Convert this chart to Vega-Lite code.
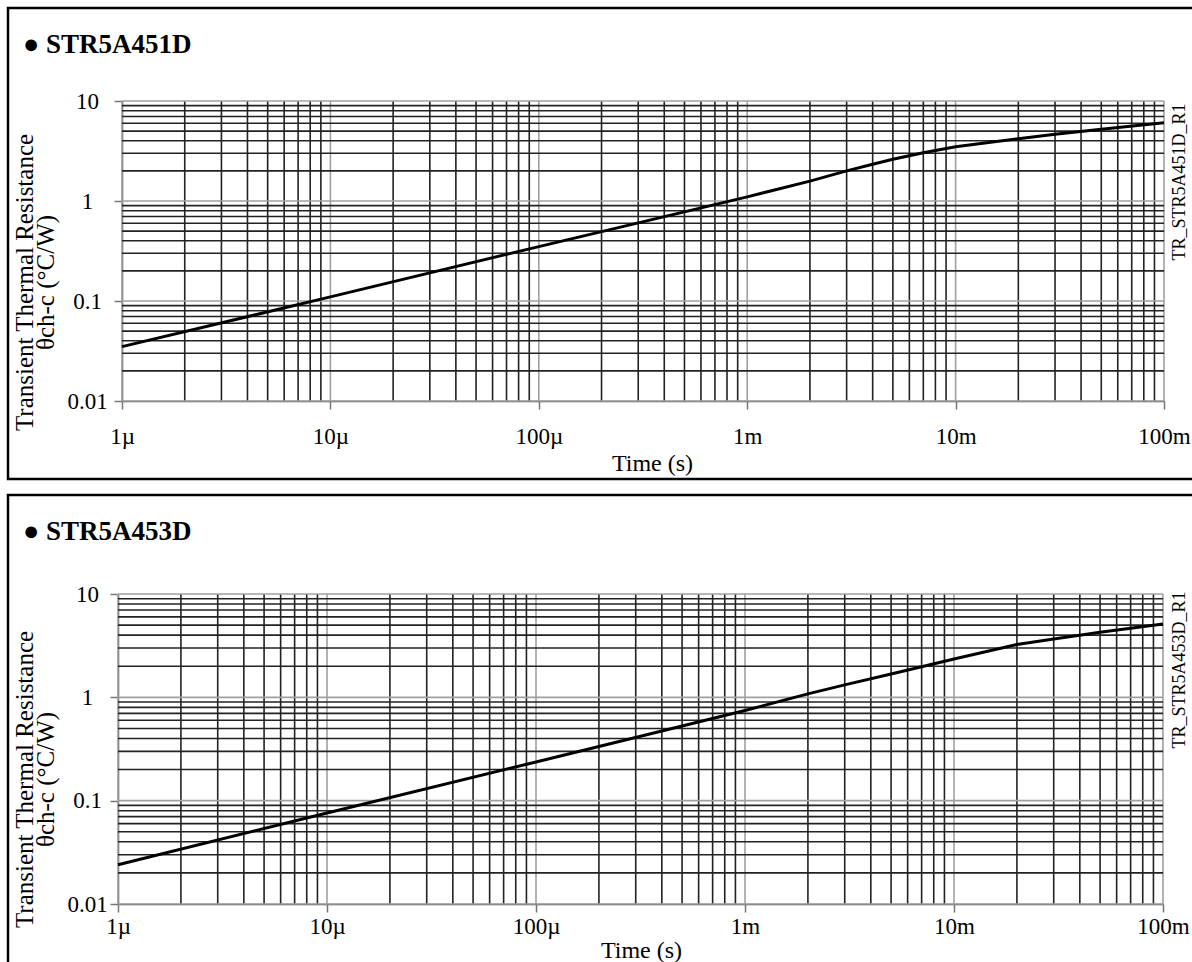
{
  "$schema": "https://vega.github.io/schema/vega-lite/v6.json",
  "padding": {"left": 6, "top": 6, "right": 0, "bottom": 0},
  "background": "white",
  "bounds": "flush",
  "spacing": 16,
  "config": {
    "font": "Liberation Serif",
    "view": {"stroke": "#000000", "strokeWidth": 2.5},
    "axis": {"zindex": 1}
  },
  "datasets": {
    "gx": [
      {"t": 2e-6, "kind": "minor"}, {"t": 3e-6, "kind": "minor"}, {"t": 4e-6, "kind": "minor"}, {"t": 5e-6, "kind": "minor"}, {"t": 6e-6, "kind": "minor"}, {"t": 7e-6, "kind": "minor"}, {"t": 8e-6, "kind": "minor"}, {"t": 9e-6, "kind": "minor"},
      {"t": 2e-5, "kind": "minor"}, {"t": 3e-5, "kind": "minor"}, {"t": 4e-5, "kind": "minor"}, {"t": 5e-5, "kind": "minor"}, {"t": 6e-5, "kind": "minor"}, {"t": 7e-5, "kind": "minor"}, {"t": 8e-5, "kind": "minor"}, {"t": 9e-5, "kind": "minor"},
      {"t": 2e-4, "kind": "minor"}, {"t": 3e-4, "kind": "minor"}, {"t": 4e-4, "kind": "minor"}, {"t": 5e-4, "kind": "minor"}, {"t": 6e-4, "kind": "minor"}, {"t": 7e-4, "kind": "minor"}, {"t": 8e-4, "kind": "minor"}, {"t": 9e-4, "kind": "minor"},
      {"t": 0.002, "kind": "minor"}, {"t": 0.003, "kind": "minor"}, {"t": 0.004, "kind": "minor"}, {"t": 0.005, "kind": "minor"}, {"t": 0.006, "kind": "minor"}, {"t": 0.007, "kind": "minor"}, {"t": 0.008, "kind": "minor"}, {"t": 0.009, "kind": "minor"},
      {"t": 0.02, "kind": "minor"}, {"t": 0.03, "kind": "minor"}, {"t": 0.04, "kind": "minor"}, {"t": 0.05, "kind": "minor"}, {"t": 0.06, "kind": "minor"}, {"t": 0.07, "kind": "minor"}, {"t": 0.08, "kind": "minor"}, {"t": 0.09, "kind": "minor"},
      {"t": 1e-6, "kind": "major"}, {"t": 1e-5, "kind": "major"}, {"t": 1e-4, "kind": "major"}, {"t": 0.001, "kind": "major"}, {"t": 0.01, "kind": "major"}, {"t": 0.1, "kind": "major"}
    ],
    "gy": [
      {"v": 0.02, "kind": "minor"}, {"v": 0.03, "kind": "minor"}, {"v": 0.04, "kind": "minor"}, {"v": 0.05, "kind": "minor"}, {"v": 0.06, "kind": "minor"}, {"v": 0.07, "kind": "minor"}, {"v": 0.08, "kind": "minor"}, {"v": 0.09, "kind": "minor"},
      {"v": 0.2, "kind": "minor"}, {"v": 0.3, "kind": "minor"}, {"v": 0.4, "kind": "minor"}, {"v": 0.5, "kind": "minor"}, {"v": 0.6, "kind": "minor"}, {"v": 0.7, "kind": "minor"}, {"v": 0.8, "kind": "minor"}, {"v": 0.9, "kind": "minor"},
      {"v": 2, "kind": "minor"}, {"v": 3, "kind": "minor"}, {"v": 4, "kind": "minor"}, {"v": 5, "kind": "minor"}, {"v": 6, "kind": "minor"}, {"v": 7, "kind": "minor"}, {"v": 8, "kind": "minor"}, {"v": 9, "kind": "minor"},
      {"v": 0.01, "kind": "major"}, {"v": 0.1, "kind": "major"}, {"v": 1, "kind": "major"}, {"v": 10, "kind": "major"}
    ],
    "c1": [
      {"t": 1e-6, "r": 0.035}, {"t": 1e-5, "r": 0.11}, {"t": 1e-4, "r": 0.35}, {"t": 0.001, "r": 1.1},
      {"t": 0.002, "r": 1.58}, {"t": 0.003, "r": 2.0}, {"t": 0.004, "r": 2.33}, {"t": 0.005, "r": 2.61},
      {"t": 0.007, "r": 3.04}, {"t": 0.01, "r": 3.49}, {"t": 0.02, "r": 4.2}, {"t": 0.03, "r": 4.64},
      {"t": 0.05, "r": 5.21}, {"t": 0.1, "r": 6.07}
    ],
    "c2": [
      {"t": 1e-6, "r": 0.024}, {"t": 1e-5, "r": 0.076}, {"t": 1e-4, "r": 0.237}, {"t": 0.001, "r": 0.745},
      {"t": 0.002, "r": 1.08}, {"t": 0.003, "r": 1.32}, {"t": 0.005, "r": 1.68}, {"t": 0.007, "r": 1.98},
      {"t": 0.01, "r": 2.35}, {"t": 0.02, "r": 3.24}, {"t": 0.03, "r": 3.67}, {"t": 0.05, "r": 4.26},
      {"t": 0.1, "r": 5.13}
    ]
  },
  "vconcat": [
    {
      "width": 1192,
      "height": 471,
      "title": {"text": "● STR5A451D", "anchor": "start", "frame": "group", "offset": -46, "dx": 15, "dy": 26, "baseline": "alphabetic", "font": "Liberation Serif", "fontSize": 27, "fontWeight": "bold", "color": "#000000"},
      "resolve": {"axis": {"x": "independent", "y": "independent"}},
      "layer": [
        {
          "data": {"name": "gx"},
          "mark": {"type": "rule", "strokeWidth": 1.6},
          "encoding": {
            "x": {"field": "t", "type": "quantitative", "scale": {"type": "log", "domain": [1e-6, 0.1], "range": [114, 1156]},
                  "axis": {"orient": "bottom", "offset": -78, "values": [1e-6, 1e-5, 1e-4, 0.001, 0.01, 0.1], "format": "~s", "grid": false,
                           "labelFont": "Liberation Serif", "labelFontSize": 23, "labelColor": "#000000", "labelBaseline": "alphabetic", "labelPadding": 34, "labelFlush": false, "labelOverlap": false,
                           "tickSize": 8, "tickColor": "#777777", "tickWidth": 1.5, "domainColor": "#555555", "domainWidth": 1.5,
                           "title": "Time (s)", "titleFont": "Liberation Serif", "titleFontSize": 24, "titleFontWeight": "normal", "titleColor": "#000000",
                           "titleBaseline": "alphabetic", "titleAlign": "center", "titleX": 644, "titleY": 69}},
            "y": {"datum": 0.01, "type": "quantitative", "scale": {"type": "log", "domain": [0.01, 10], "range": [393, 93]},
                  "axis": {"orient": "right", "offset": -36, "labels": false, "ticks": false, "domain": false, "grid": false,
                           "title": "TR_STR5A451D_R1", "titleAngle": 270, "titleAlign": "right", "titleBaseline": "middle", "titleX": 15, "titleY": 95,
                           "titleFont": "Liberation Serif", "titleFontSize": 18, "titleFontWeight": "normal", "titleColor": "#000000"}},
            "y2": {"datum": 10},
            "color": {"field": "kind", "type": "nominal", "scale": {"domain": ["major", "minor"], "range": ["#a0a0a0", "#222222"]}, "legend": null}
          }
        },
        {
          "data": {"name": "gy"},
          "mark": {"type": "rule", "strokeWidth": 1.6},
          "encoding": {
            "y": {"field": "v", "type": "quantitative", "scale": {"type": "log", "domain": [0.01, 10], "range": [393, 93]},
                  "axis": {"orient": "left", "offset": -114, "values": [0.01, 0.1, 1, 10], "format": "~g", "grid": false,
                           "labelFont": "Liberation Serif", "labelFontSize": 23, "labelColor": "#000000", "labelAlign": "center", "labelBaseline": "middle", "labelPadding": 27, "labelFlush": false, "labelOverlap": false,
                           "tickSize": 8, "tickColor": "#777777", "tickWidth": 1.5, "domainColor": "#555555", "domainWidth": 1.5,
                           "title": ["Transient Thermal Resistance", "θch-c (°C/W)"], "titleFont": "Liberation Serif", "titleFontSize": 25, "titleFontWeight": "normal", "titleColor": "#000000",
                           "titleAngle": 270, "titleAlign": "center", "titleBaseline": "middle", "titleLineHeight": 21, "titleX": -98, "titleY": 274}},
            "x": {"datum": 1e-6, "type": "quantitative", "scale": {"type": "log", "domain": [1e-6, 0.1], "range": [114, 1156]}, "axis": null},
            "x2": {"datum": 0.1},
            "color": {"field": "kind", "type": "nominal", "scale": {"domain": ["major", "minor"], "range": ["#a0a0a0", "#222222"]}, "legend": null}
          }
        },
        {
          "data": {"name": "c1"},
          "mark": {"type": "line", "color": "#000000", "strokeWidth": 3},
          "encoding": {
            "x": {"field": "t", "type": "quantitative", "scale": {"type": "log", "domain": [1e-6, 0.1], "range": [114, 1156]}, "axis": null},
            "y": {"field": "r", "type": "quantitative", "scale": {"type": "log", "domain": [0.01, 10], "range": [393, 93]}, "axis": null}
          }
        }
      ]
    },
    {
      "width": 1192,
      "height": 475,
      "title": {"text": "● STR5A453D", "anchor": "start", "frame": "group", "offset": -46, "dx": 15, "dy": 26, "baseline": "alphabetic", "font": "Liberation Serif", "fontSize": 27, "fontWeight": "bold", "color": "#000000"},
      "resolve": {"axis": {"x": "independent", "y": "independent"}},
      "layer": [
        {
          "data": {"name": "gx"},
          "mark": {"type": "rule", "strokeWidth": 1.6},
          "encoding": {
            "x": {"field": "t", "type": "quantitative", "scale": {"type": "log", "domain": [1e-6, 0.1], "range": [110, 1155]},
                  "axis": {"orient": "bottom", "offset": -66, "values": [1e-6, 1e-5, 1e-4, 0.001, 0.01, 0.1], "format": "~s", "grid": false,
                           "labelFont": "Liberation Serif", "labelFontSize": 23, "labelColor": "#000000", "labelBaseline": "alphabetic", "labelPadding": 21, "labelFlush": false, "labelOverlap": false,
                           "tickSize": 8, "tickColor": "#777777", "tickWidth": 1.5, "domainColor": "#555555", "domainWidth": 1.5,
                           "title": "Time (s)", "titleFont": "Liberation Serif", "titleFontSize": 24, "titleFontWeight": "normal", "titleColor": "#000000",
                           "titleBaseline": "alphabetic", "titleAlign": "center", "titleX": 633, "titleY": 53}},
            "y": {"datum": 0.01, "type": "quantitative", "scale": {"type": "log", "domain": [0.01, 10], "range": [409, 99]},
                  "axis": {"orient": "right", "offset": -37, "labels": false, "ticks": false, "domain": false, "grid": false,
                           "title": "TR_STR5A453D_R1", "titleAngle": 270, "titleAlign": "right", "titleBaseline": "middle", "titleX": 16, "titleY": 96,
                           "titleFont": "Liberation Serif", "titleFontSize": 18, "titleFontWeight": "normal", "titleColor": "#000000"}},
            "y2": {"datum": 10},
            "color": {"field": "kind", "type": "nominal", "scale": {"domain": ["major", "minor"], "range": ["#a0a0a0", "#222222"]}, "legend": null}
          }
        },
        {
          "data": {"name": "gy"},
          "mark": {"type": "rule", "strokeWidth": 1.6},
          "encoding": {
            "y": {"field": "v", "type": "quantitative", "scale": {"type": "log", "domain": [0.01, 10], "range": [409, 99]},
                  "axis": {"orient": "left", "offset": -110, "values": [0.01, 0.1, 1, 10], "format": "~g", "grid": false,
                           "labelFont": "Liberation Serif", "labelFontSize": 23, "labelColor": "#000000", "labelAlign": "center", "labelBaseline": "middle", "labelPadding": 23, "labelFlush": false, "labelOverlap": false,
                           "tickSize": 8, "tickColor": "#777777", "tickWidth": 1.5, "domainColor": "#555555", "domainWidth": 1.5,
                           "title": ["Transient Thermal Resistance", "θch-c (°C/W)"], "titleFont": "Liberation Serif", "titleFontSize": 25, "titleFontWeight": "normal", "titleColor": "#000000",
                           "titleAngle": 270, "titleAlign": "center", "titleBaseline": "middle", "titleLineHeight": 21, "titleX": -94, "titleY": 284}},
            "x": {"datum": 1e-6, "type": "quantitative", "scale": {"type": "log", "domain": [1e-6, 0.1], "range": [110, 1155]}, "axis": null},
            "x2": {"datum": 0.1},
            "color": {"field": "kind", "type": "nominal", "scale": {"domain": ["major", "minor"], "range": ["#a0a0a0", "#222222"]}, "legend": null}
          }
        },
        {
          "data": {"name": "c2"},
          "mark": {"type": "line", "color": "#000000", "strokeWidth": 3},
          "encoding": {
            "x": {"field": "t", "type": "quantitative", "scale": {"type": "log", "domain": [1e-6, 0.1], "range": [110, 1155]}, "axis": null},
            "y": {"field": "r", "type": "quantitative", "scale": {"type": "log", "domain": [0.01, 10], "range": [409, 99]}, "axis": null}
          }
        }
      ]
    }
  ]
}
